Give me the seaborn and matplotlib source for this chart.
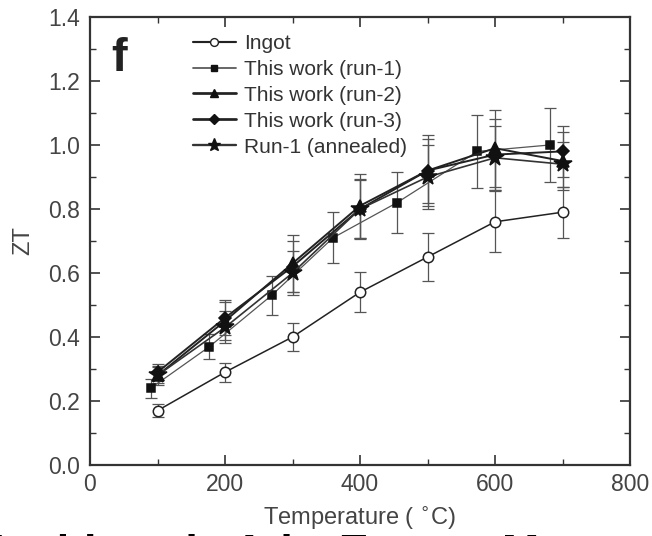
import matplotlib
matplotlib.use("Agg")
import matplotlib.pyplot as plt
from matplotlib.lines import Line2D
from matplotlib.ticker import MultipleLocator
import seaborn as sns
import pandas as pd

# ---- data ----
temps = [100, 200, 300, 400, 500, 600, 700]
ingot_zt = [0.17, 0.29, 0.40, 0.54, 0.65, 0.76, 0.79]
ingot_err = [0.02, 0.03, 0.045, 0.063, 0.075, 0.095, 0.08]

run1_t = [90, 177, 269, 360, 455, 574, 681]
run1_zt = [0.24, 0.37, 0.53, 0.71, 0.82, 0.98, 1.00]
run1_err = [0.03, 0.04, 0.06, 0.08, 0.095, 0.115, 0.115]

run2_zt = [0.28, 0.45, 0.63, 0.81, 0.92, 0.99, 0.95]
run2_err = [0.03, 0.06, 0.09, 0.10, 0.11, 0.12, 0.09]

run3_zt = [0.29, 0.46, 0.62, 0.80, 0.92, 0.97, 0.98]
run3_err = [0.025, 0.055, 0.08, 0.095, 0.10, 0.11, 0.08]

ann_zt = [0.28, 0.43, 0.60, 0.80, 0.90, 0.96, 0.94]
ann_err = [0.025, 0.05, 0.07, 0.09, 0.10, 0.10, 0.07]

labels = ["Ingot", "This work (run-1)", "This work (run-2)",
          "This work (run-3)", "Run-1 (annealed)"]

sns.set_theme(style="ticks")
plt.rcParams["font.family"] = ["Liberation Sans", "DejaVu Sans"]

fig = plt.figure(figsize=(6.52, 5.36), dpi=100)
ax = fig.add_axes([90 / 652, 1 - 465 / 536, 540 / 652, 448 / 536])

series = [
    (temps, ingot_zt, ingot_err, "o", 7.5, "white", "#222222", 1.1, "#222222"),
    (run1_t, run1_zt, run1_err, "s", 6, "#111111", "#111111", 0.9, "#555555"),
    (temps, run2_zt, run2_err, "^", 8, "#111111", "#111111", 1.4, "#222222"),
    (temps, run3_zt, run3_err, "D", 6.5, "#111111", "#111111", 1.4, "#222222"),
    (temps, ann_zt, ann_err, "*", 13, "#111111", "#111111", 1.2, "#333333"),
]

handles = []
for (xs, ys, es, mk, ms, mfc, mec, lw, lc), lab in zip(series, labels):
    ax.errorbar(xs, ys, yerr=es, fmt="none", ecolor="#555555",
                elinewidth=0.9, capsize=4, capthick=0.9, zorder=2)
    df = pd.DataFrame({"T": xs, "ZT": ys})
    sns.lineplot(data=df, x="T", y="ZT", ax=ax, color=lc, linewidth=lw,
                 marker=mk, markersize=ms, markerfacecolor=mfc,
                 markeredgecolor=mec, markeredgewidth=1.1, zorder=3,
                 legend=False)
    handles.append(Line2D([], [], color=lc, linewidth=lw * 1.4, marker=mk,
                          markersize=ms * 0.75, markerfacecolor=mfc,
                          markeredgecolor=mec, markeredgewidth=1.0))

ax.set_xlim(0, 800)
ax.set_ylim(0, 1.4)
ax.xaxis.set_major_locator(MultipleLocator(200))
ax.xaxis.set_minor_locator(MultipleLocator(100))
ax.yaxis.set_major_locator(MultipleLocator(0.2))
ax.yaxis.set_minor_locator(MultipleLocator(0.1))
ax.set_xticks([0, 200, 400, 600, 800])
ax.set_xticklabels(["0", "200", "400", "600", "800"])
ax.set_yticklabels([f"{v:.1f}" for v in ax.get_yticks()])

ax.tick_params(which="both", direction="in", top=True, right=True,
               color="#333333", labelcolor="#444444", labelsize=16.5)
ax.tick_params(which="major", length=7, width=1.2)
ax.tick_params(which="minor", length=4.5, width=1.0)
ax.tick_params(axis="y", pad=7)
ax.tick_params(axis="x", pad=6)
for sp in ax.spines.values():
    sp.set_color("#333333")
    sp.set_linewidth(1.6)

ax.set_xlabel("Temperature ( $^{\\circ}$C)", fontsize=17, color="#444444",
              labelpad=6)
ax.set_ylabel("ZT", fontsize=17, color="#444444", labelpad=10)

ax.text(0.04, 0.955, "f", transform=ax.transAxes, fontsize=34,
        fontweight="bold", color="#222222", va="top", ha="left")

leg = ax.legend(handles, labels, loc="upper left",
                bbox_to_anchor=(0.19, 0.962), frameon=False, fontsize=15,
                handlelength=2.1, handletextpad=0.35, labelspacing=0.33,
                borderpad=0, borderaxespad=0)
for t in leg.get_texts():
    t.set_color("#333333")

fig.text(-20 / 652, 1 - 534 / 536, "Joshi et al., Adv. Energy Mater.",
         fontsize=32, fontweight="bold", color="black", va="top",
         ha="left")

fig.savefig("out.png", dpi=100)
